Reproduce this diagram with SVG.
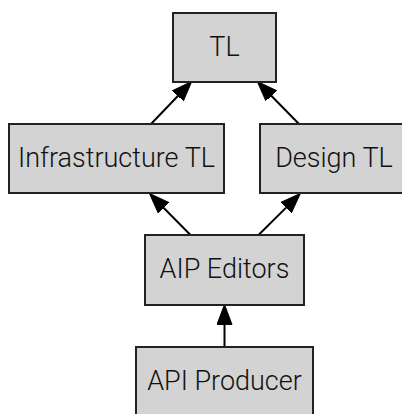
<svg xmlns="http://www.w3.org/2000/svg" width="402" height="414" viewBox="0 0 402 414">
<style>
.box{fill:#d3d3d3;stroke:#222;stroke-width:2}
.lbl{font-family:Roboto,"Liberation Sans",sans-serif;font-weight:300;font-size:27px;fill:#111;text-anchor:middle}
.edge{stroke:#000;stroke-width:2;fill:none}
</style>
<defs>
<marker id="arr" markerUnits="userSpaceOnUse" markerWidth="21" markerHeight="16" viewBox="0 -8 21 16" refX="0" refY="0" orient="auto">
<path d="M0,-7.5 L20,0 L0,7.5 z" fill="#000" stroke="#000" stroke-width="1"/>
</marker>
</defs>
<rect width="402" height="414" fill="#fff"/>
<g id="connectors">
<line class="edge" x1="151" y1="124" x2="177.87" y2="95.94" marker-end="url(#arr)"/>
<line class="edge" x1="299" y1="124" x2="271.31" y2="95.78" marker-end="url(#arr)"/>
<line class="edge" x1="190.5" y1="235" x2="163.56" y2="207.73" marker-end="url(#arr)"/>
<line class="edge" x1="258.5" y1="235" x2="286.11" y2="207.59" marker-end="url(#arr)"/>
<line class="edge" x1="224.5" y1="347" x2="224.5" y2="324.5" marker-end="url(#arr)"/>
</g>
<g id="tl"><rect class="box" x="173" y="13" width="103" height="69"/><text class="lbl" x="224.5" y="55.5">TL</text></g>
<g id="infra"><rect class="box" x="9" y="124" width="215" height="69"/><text class="lbl" x="116.5" y="166.5">Infrastructure TL</text></g>
<g id="design"><rect class="box" x="260" y="124" width="148" height="69"/><text class="lbl" x="334" y="166.5">Design TL</text></g>
<g id="aip"><rect class="box" x="145" y="235" width="159" height="70"/><text class="lbl" x="224.5" y="278">AIP Editors</text></g>
<g id="api"><rect class="box" x="136" y="347" width="177" height="69"/><text class="lbl" x="224.5" y="389.5">API Producer</text></g>
</svg>
